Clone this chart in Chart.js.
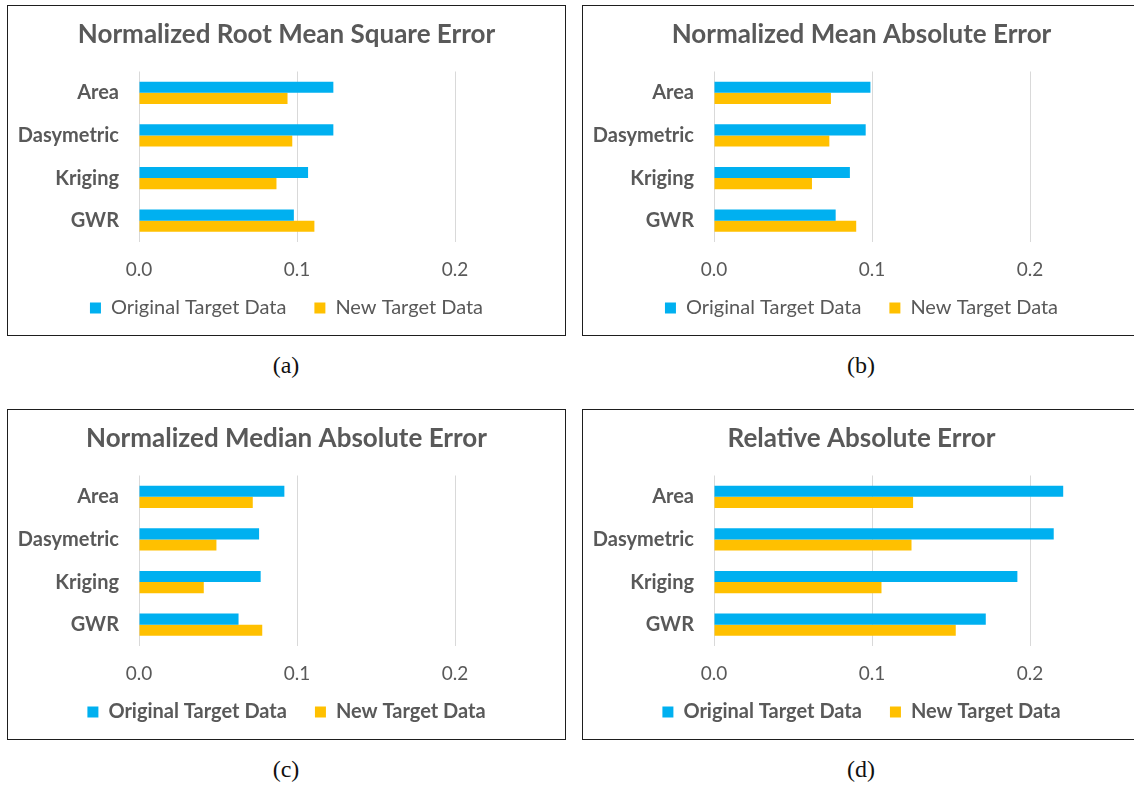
<!DOCTYPE html>
<html>
<head>
<meta charset="utf-8">
<script src="https://cdn.jsdelivr.net/npm/chart.js@4.4.1/dist/chart.umd.min.js"></script>
<style>
  html, body { margin: 0; padding: 0; background: #fff; }
  body { width: 1134px; height: 787px; position: relative; overflow: hidden; }
  .panel {
    position: absolute;
    width: 557px;
    height: 329px;
    border: 1px solid #1e1e1e;
  }
  .caption {
    position: absolute;
    width: 100px;
    text-align: center;
    font-family: "Liberation Serif", "Times New Roman", serif;
    font-size: 24px;
    color: #111;
  }
</style>
</head>
<body>
<div class="panel" style="left:7px; top:5px;"><canvas id="chart-nrmse"></canvas></div>
<div class="panel" style="left:582px; top:5px;"><canvas id="chart-nmae"></canvas></div>
<div class="panel" style="left:7px; top:409px;"><canvas id="chart-nmedae"></canvas></div>
<div class="panel" style="left:582px; top:409px;"><canvas id="chart-rae"></canvas></div>
<div class="caption" style="left:236px; top:352px;">(a)</div>
<div class="caption" style="left:811px; top:352px;">(b)</div>
<div class="caption" style="left:236px; top:756px;">(c)</div>
<div class="caption" style="left:811px; top:756px;">(d)</div>

<script>
// Error metrics per interpolation method
const methods = ['Area', 'Dasymetric', 'Kriging', 'GWR'];
const seriesNames = ['Original Target Data', 'New Target Data'];
const xTicks = [0, 0.1, 0.2];

const nrmseOriginal = [0.123, 0.123, 0.107, 0.098];
const nrmseNew = [0.094, 0.097, 0.087, 0.111];

const nmaeOriginal = [0.099, 0.096, 0.086, 0.077];
const nmaeNew = [0.074, 0.073, 0.062, 0.090];

const nmedaeOriginal = [0.092, 0.076, 0.077, 0.063];
const nmedaeNew = [0.072, 0.049, 0.041, 0.078];

const raeOriginal = [0.221, 0.215, 0.192, 0.172];
const raeNew = [0.126, 0.125, 0.106, 0.153];

Chart.defaults.font.family = "Lato, Carlito, Calibri, sans-serif";
Chart.defaults.color = '#595959';

// Legend padding doubles as the gap between items, so pull the
// legend row up a bit after layout to sit closer to the tick labels
const legendLift = {
  id: 'legendLift',
  afterLayout(chart) {
    const lg = chart.legend;
    if (!lg) return;
    lg.top -= 12;
    lg.bottom -= 12;
  }
};

function drawErrorChart(canvasId, title, originalVals, newVals, boldLegend) {
  const ctx = document.getElementById(canvasId).getContext('2d');
  return new Chart(ctx, {
    type: 'bar',
    data: {
      labels: methods,
      datasets: [
        {
          label: seriesNames[0],
          data: originalVals,
          backgroundColor: '#00B0F0',
          categoryPercentage: 0.52,
          barPercentage: 1.0
        },
        {
          label: seriesNames[1],
          data: newVals,
          backgroundColor: '#FFC000',
          categoryPercentage: 0.52,
          barPercentage: 1.0
        }
      ]
    },
    plugins: [legendLift],
    options: {
      indexAxis: 'y',
      responsive: true,
      maintainAspectRatio: false,
      animation: false,
      layout: {
        padding: { left: 0, right: 0, top: 0, bottom: -5 }
      },
      plugins: {
        title: {
          display: true,
          text: title,
          color: '#595959',
          font: { size: 26, weight: 'bold' },
          padding: { top: 13.4, bottom: 20.9 }
        },
        legend: {
          position: 'bottom',
          labels: {
            boxWidth: 11,
            boxHeight: 11,
            padding: 28,
            color: '#595959',
            font: { size: 20, weight: boldLegend ? 'bold' : 'normal' }
          }
        },
        tooltip: { enabled: false }
      },
      scales: {
        x: {
          min: 0,
          max: 0.2696,
          afterBuildTicks: function(axis) {
            axis.ticks = xTicks.map(v => ({ value: v }));
          },
          afterFit: function(axis) {
            axis.height = 40;
          },
          ticks: {
            padding: 16,
            color: '#595959',
            font: { size: 19 },
            callback: function(value) {
              return Number(value).toFixed(1);
            }
          },
          grid: {
            color: '#D9D9D9',
            lineWidth: 1,
            drawTicks: false
          },
          border: { display: false }
        },
        y: {
          afterFit: function(axis) {
            axis.width = 131;
          },
          ticks: {
            padding: 20,
            color: '#595959',
            font: { size: 20, weight: 'bold' }
          },
          grid: { display: false, drawTicks: false },
          border: { display: false }
        }
      }
    }
  });
}

drawErrorChart('chart-nrmse', 'Normalized Root Mean Square Error', nrmseOriginal, nrmseNew, false);
drawErrorChart('chart-nmae', 'Normalized Mean Absolute Error', nmaeOriginal, nmaeNew, false);
drawErrorChart('chart-nmedae', 'Normalized Median Absolute Error', nmedaeOriginal, nmedaeNew, true);
drawErrorChart('chart-rae', 'Relative Absolute Error', raeOriginal, raeNew, true);
</script>
</body>
</html>
